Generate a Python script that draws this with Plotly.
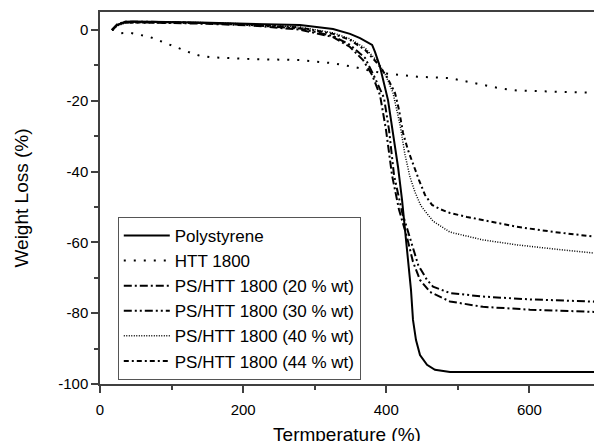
import plotly.graph_objects as go

# Temperature (°C) and weight loss (%) for each sample
temp_ps = [16.8, 23.8, 34.9, 46.1, 139.7, 209.6, 279.4, 325.6, 349.3, 363.3, 380.2, 384.2, 391.2,
           402.4, 409.4, 416.4, 422.0, 427.6, 431.7, 434.5, 437.3, 441.5, 447.1, 456.9, 468.0,
           489.0, 700.0]
wl_ps = [0, 1.4, 2.3, 2.4, 2.1, 1.8, 1.4, 0.3, -1.1, -2.3, -4.2, -6.2, -10.4,
         -19.8, -29.1, -38.7, -48.0, -58.5, -67.8, -73.4, -81.9, -87.6, -91.8, -94.6, -96.0,
         -96.6, -96.6]

temp_htt = [17, 28, 42, 56, 70, 84, 98, 112, 126, 140, 154, 210, 279, 326, 354, 373, 395, 419,
            443, 489, 513, 535, 559, 583, 629, 700]
wl_htt = [0.2, -0.9, -0.8, -1.4, -2.0, -3.1, -4.2, -5.4, -6.4, -7.3, -7.7, -8.2, -8.5, -9.4,
          -10.4, -11.3, -12.2, -12.7, -13.2, -13.6, -14.6, -15.5, -16.5, -17.1, -17.4, -17.8]

temp_20 = [16.8, 23.8, 34.9, 69.9, 139.7, 209.6, 279.4, 325.6, 349.3, 367.5, 380.2, 391.2,
           399.6, 408.0, 417.8, 428.9, 437.3, 447.1, 461.1, 489.0, 535.1, 600.8, 700.0]
wl_20 = [0, 1.4, 2.1, 2.1, 1.8, 1.3, 0.1, -2.0, -4.8, -8.5, -12.7, -18.4,
         -28.2, -41.0, -50.8, -58.5, -65.5, -70.6, -74.0, -76.7, -78.2, -79.0, -79.7]

temp_30 = [16.8, 23.8, 34.9, 69.9, 139.7, 209.6, 279.4, 325.6, 349.3, 370.3, 382.9, 396.8,
           403.8, 410.8, 422.0, 433.1, 444.6, 456.9, 465.3, 489.0, 535.1, 600.8, 700.0]
wl_30 = [0, 1.6, 2.3, 2.3, 2.0, 1.4, 0.4, -1.7, -4.2, -7.9, -13.0, -19.2,
         -28.2, -41.0, -51.4, -58.5, -66.4, -70.6, -72.5, -74.3, -75.3, -76.1, -76.8]

temp_40 = [16.8, 23.8, 34.9, 69.9, 139.7, 209.6, 279.4, 325.6, 349.3, 370.3, 388.4, 399.6,
           409.4, 419.2, 426.2, 433.1, 440.1, 448.5, 465.3, 489.0, 535.1, 582.6, 635.7, 700.0]
wl_40 = [0, 1.1, 2.0, 2.3, 2.1, 1.7, 0.8, -0.8, -2.5, -5.1, -9.0, -13.0,
         -17.8, -26.8, -35.3, -41.5, -45.8, -49.7, -54.0, -57.1, -59.3, -60.7, -61.9, -63.2]

temp_44 = [16.8, 23.8, 34.9, 69.9, 139.7, 209.6, 279.4, 325.6, 349.3, 370.3, 388.4, 401.0,
           412.2, 417.8, 423.4, 430.3, 438.7, 445.7, 454.1, 463.9, 475.1, 489.0, 512.8, 582.6,
           635.7, 700.0]
wl_44 = [0, 1.4, 2.1, 2.1, 2.0, 1.6, 0.7, -1.1, -2.8, -5.6, -9.6, -13.3,
         -17.8, -22.6, -29.1, -33.9, -38.7, -42.4, -46.6, -49.4, -50.6, -51.7, -52.8, -55.6,
         -57.1, -58.6]

names = ["Polystyrene", "HTT 1800", "PS/HTT 1800 (20 % wt)", "PS/HTT 1800 (30 % wt)",
         "PS/HTT 1800 (40 % wt)", "PS/HTT 1800 (44 % wt)"]

x_tickvals = [0, 200, 400, 600]
x_ticktext = ["0", "200", "400", "600"]
x_minor = [100, 300, 500]
y_tickvals = [0, -20, -40, -60, -80, -100]
y_ticktext = ["0", "-20", "-40", "-60", "-80", "-100"]
y_minor = [-10, -30, -50, -70, -90]

series = [
    (temp_ps, wl_ps, dict(color="black", width=2, dash="solid")),
    (temp_htt, wl_htt, dict(color="black", width=2, dash="2px,8px")),
    (temp_20, wl_20, dict(color="black", width=2, dash="8px,3px,2px,3px")),
    (temp_30, wl_30, dict(color="black", width=2, dash="8px,3px,2px,3px,2px,3px")),
    (temp_40, wl_40, dict(color="black", width=1.5, dash="1px,1.5px")),
    (temp_44, wl_44, dict(color="black", width=2, dash="5px,3px,2px,3px")),
]

fig = go.Figure()
for (t, w, ln), nm in zip(series, names):
    fig.add_trace(go.Scatter(x=t, y=w, mode="lines", name=nm, line=ln))

font_family = "Liberation Sans, Arial, sans-serif"
axis_col = "#404040"

fig.update_layout(
    width=594, height=445,
    margin=dict(l=100, r=0, t=12, b=61),
    paper_bgcolor="white", plot_bgcolor="white",
    font=dict(family=font_family, size=15, color="black"),
    showlegend=True,
    legend=dict(
        x=0.036, y=0.011, xanchor="left", yanchor="bottom",
        bgcolor="white", bordercolor="#555555", borderwidth=1,
        font=dict(family=font_family, size=17, color="black"),
        itemwidth=46, tracegroupgap=0,
    ),
    xaxis=dict(
        range=[0, 690.2], showgrid=False, zeroline=False, automargin=False,
        showline=True, linecolor=axis_col, linewidth=1.5, mirror=True,
        ticks="outside", ticklen=7, tickwidth=1.5, tickcolor=axis_col,
        tickvals=x_tickvals, ticktext=x_ticktext, ticklabelstandoff=4,
        minor=dict(tickvals=x_minor, ticks="outside", ticklen=4, tickwidth=1.5, tickcolor=axis_col),
        title=dict(text="Termperature (%)", font=dict(size=19), standoff=20),
        tickfont=dict(size=15),
    ),
    yaxis=dict(
        range=[-100, 5.08], showgrid=False, zeroline=False, automargin=False,
        showline=True, linecolor=axis_col, linewidth=1.5,
        ticks="outside", ticklen=7, tickwidth=1.5, tickcolor=axis_col,
        tickvals=y_tickvals, ticktext=y_ticktext,
        minor=dict(tickvals=y_minor, ticks="outside", ticklen=4, tickwidth=1.5, tickcolor=axis_col),
        title=dict(text="Weight Loss (%)", font=dict(size=19), standoff=25),
        tickfont=dict(size=15),
    ),
)

fig.write_html("out.html", config={"displayModeBar": False},
               post_script="document.body.style.margin='0';document.body.style.overflow='hidden';")
